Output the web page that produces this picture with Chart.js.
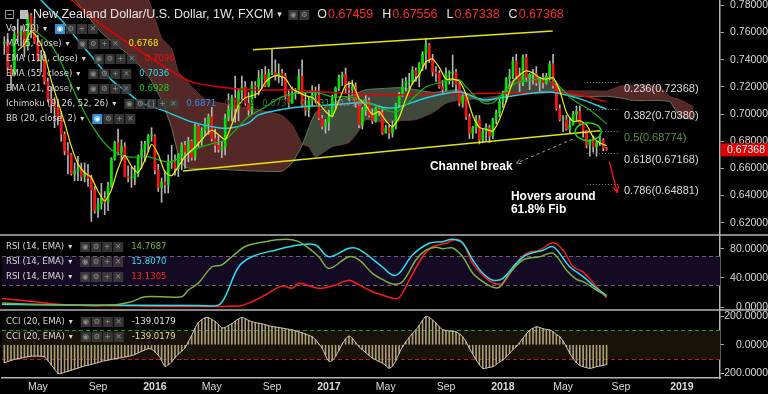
<!DOCTYPE html>
<html lang="en">
<head>
<meta charset="utf-8">
<title>NZD/USD 1W</title>
<script src="https://cdn.jsdelivr.net/npm/chart.js@4.4.1/dist/chart.umd.min.js"></script>
<style>
  html, body { margin: 0; background: #000; overflow: hidden; }
  canvas { display: block; }
</style>
</head>
<body>
<canvas id="grafico" width="768" height="394"></canvas>
<script>
// weekly candles; week 0 = first week of Jan 2016
const firstWeek = -45;
const firstOpen = 0.7520;
const closes = [
  .7530,.7345,.7290,.7590,.7580,.7610,.7500,.7730,.7630,.7530,
  .7400,.7410,.7240,.7110,.7080,.7050,.6980,.6850,.6730,.6700,
  .6560,.6580,.6600,.6540,.6560,.6530,.6440,.6290,.6340,.6380,
  .6350,.6470,.6670,.6790,.6720,.6760,.6540,.6530,.6530,.6560,
  .6690,.6740,.6780,.6840,.6840,
  .6590,.6460,.6500,.6480,.6640,.6650,.6600,.6700,.6770,.6720,
  .6800,.6680,.6910,.6800,.6880,.6930,.6980,.6820,.6770,.6740,
  .6760,.6970,.7030,.7120,.7040,.7160,.7200,.7080,.7030,.7210,
  .7200,.7260,.7290,.7210,.7300,.7310,.7290,.7300,.7280,.7130,
  .7080,.7150,.7160,.7280,.7060,.7030,.7100,.7140,.7140,.6970,
  .6910,.6940,.6980,.7120,.7190,.7270,.7290,.7190,.7180,.7200,
  .7080,.6920,.7030,.7100,.6990,.6950,.7040,.7010,.6860,.6900,
  .6860,.6910,.7070,.7140,.7200,.7240,.7240,.7320,.7280,.7370,
  .7440,.7510,.7400,.7310,.7300,.7200,.7180,.7300,.7300,.7310,
  .7220,.7080,.7130,.6980,.6860,.6900,.6960,.6810,.6870,.6900,
  .6840,.6960,.7010,.7090,.7160,.7260,.7280,.7390,.7280,.7230,
  .7420,.7270,.7290,.7300,.7230,.7250,.7230,.7280,.7370,.7210,
  .7040,.6960,.6960,.6890,.6920,.7000,.7020,.6930,.6880,.6770,
  .6810,.6760,.6790,.6810,.6750,.67368
];
const highs = [
  .7570,.7595,.7360,.7645,.7700,.7650,.7650,.7745,.7740,.7715,
  .7580,.7470,.7460,.7265,.7200,.7120,.7110,.7020,.6870,.6790,
  .6710,.6640,.6690,.6640,.6640,.6630,.6550,.6470,.6380,.6490,
  .6430,.6500,.6680,.6800,.6890,.6810,.6790,.6620,.6610,.6620,
  .6700,.6800,.6800,.6850,.6900,
  .6850,.6630,.6530,.6580,.6700,.6770,.6700,.6710,.6790,.6800,
  .6830,.6810,.6930,.6920,.6900,.6970,.7000,.7050,.6890,.6840,
  .6800,.7000,.7150,.7140,.7280,.7190,.7280,.7240,.7160,.7240,
  .7240,.7320,.7330,.7350,.7330,.7485,.7400,.7370,.7330,.7300,
  .7180,.7200,.7190,.7330,.7400,.7160,.7130,.7210,.7200,.7220,
  .6990,.6960,.7030,.7140,.7200,.7290,.7310,.7340,.7240,.7250,
  .7230,.7080,.7050,.7140,.7120,.7040,.7050,.7060,.7050,.6920,
  .6920,.6950,.7080,.7160,.7260,.7270,.7300,.7350,.7340,.7380,
  .7460,.7558,.7520,.7440,.7350,.7320,.7250,.7340,.7320,.7435,
  .7330,.7230,.7150,.7150,.7000,.6910,.6990,.6990,.6890,.6930,
  .6920,.6970,.7030,.7110,.7170,.7270,.7330,.7420,.7440,.7340,
  .7436,.7440,.7300,.7330,.7350,.7260,.7300,.7300,.7390,.7440,
  .7230,.7070,.6990,.6990,.6970,.7020,.7060,.7060,.6940,.6880,
  .6810,.6840,.6800,.6850,.6820,.67556
];
const lows = [
  .7440,.7330,.7180,.7280,.7530,.7500,.7420,.7470,.7560,.7520,
  .7390,.7310,.7220,.7090,.7010,.6900,.6920,.6800,.6700,.6560,
  .6550,.6510,.6510,.6510,.6500,.6470,.6210,.6270,.6240,.6300,
  .6260,.6290,.6460,.6660,.6700,.6660,.6540,.6500,.6460,.6480,
  .6540,.6600,.6650,.6720,.6800,
  .6560,.6430,.6350,.6420,.6420,.6600,.6550,.6540,.6590,.6600,
  .6650,.6660,.6660,.6760,.6770,.6840,.6850,.6800,.6720,.6720,
  .6680,.6700,.6950,.6950,.6940,.6950,.7100,.7060,.6990,.7000,
  .7120,.7140,.7190,.7200,.7200,.7290,.7250,.7230,.7210,.7110,
  .7050,.7080,.7110,.7150,.7050,.6990,.6980,.7060,.7080,.6960,
  .6890,.6860,.6880,.6980,.7040,.7170,.7210,.7150,.7100,.7140,
  .7050,.6900,.6890,.6990,.6980,.6930,.6940,.6990,.6850,.6860,
  .6820,.6830,.6890,.7050,.7130,.7170,.7190,.7220,.7240,.7200,
  .7320,.7330,.7380,.7280,.7240,.7190,.7150,.7170,.7220,.7200,
  .7150,.7060,.7050,.6960,.6820,.6820,.6860,.6780,.6790,.6800,
  .6790,.6820,.6930,.6980,.7050,.7090,.7190,.7260,.7260,.7160,
  .7210,.7240,.7180,.7220,.7210,.7160,.7190,.7220,.7250,.7190,
  .7030,.6950,.6870,.6880,.6860,.6920,.6950,.6920,.6830,.6750,
  .6690,.6720,.6690,.6770,.6730,.67338
];
// CCI (20, EMA), one value per week
const cciValues = [
  -125,-118,-110,-103,-97,-93,-88,-84,-80,-79,
  -79,-80,-84,-110,-140,-170,-200,-200,-192,-186,
  -178,-170,-163,-155,-148,-143,-137,-131,-125,-117,
  -112,-107,-103,-98,-94,-90,-85,-81,-76,-68,
  -57,-46,-36,-28,-30,
  -50,-72,-110,-150,-140,-120,-90,-65,-45,-22,
  20,65,115,155,175,188,190,175,162,140,
  118,120,135,147,165,180,190,182,170,160,
  155,150,145,140,132,127,123,120,116,112,
  108,104,97,90,82,75,65,56,35,5,
  -25,-75,-115,-110,-80,-40,5,40,60,45,
  15,-14,-35,-55,-75,-93,-105,-118,-128,-145,
  -163,-150,-110,-60,-15,20,50,80,103,135,
  170,198,190,172,150,125,105,100,96,93,
  90,75,55,20,-25,-65,-105,-140,-165,-163,
  -158,-153,-138,-120,-107,-85,-60,-35,-14,15,
  45,75,100,115,125,120,112,107,103,90,
  70,56,25,-15,-60,-95,-125,-145,-153,-160,
  -165,-160,-153,-148,-143,-139
];

// MA(5) every second week from week -41
const ma5Start = -41;
const ma5 = [
  .7467,.7514,.7610,.7558,.7442,.7248,.7092,.6938,.6764,.6634,.6568,.6534,.6432,.6360,.6442,.6600,.6696,.6616,.6570,.6660,.6778,
  .6702,.6574,.6546,.6614,.6688,.6734,.6782,.6840,.6882,.6848,.6812,.6924,.7064,.7120,.7136,.7156,.7234,.7274,.7282,.7262,.7188,.7160,.7136,.7122,.7076,.7020,
  .6984,.7100,.7212,.7226,.7114,.7066,.6998,.7018,.6952,.6908,.6976,.7112,.7228,.7290,.7384,.7406,.7344,.7258,.7258,.7242,.7144,.6990,.6902,.6888,.6876,.6960,
  .7096,.7236,.7288,.7318,.7302,.7268,.7258,.7268,.7172,.7012,.6946,.6952,.6920,.6830,.6788,.6768
];

const ema110Keys = [-30,-25,-18,-8,2,11,22,31,41,51,67,87,107,120,127,135];
const ema110 = [.792,.784,.7693,.7524,.7362,.7237,.7193,.7178,.7178,.7163,.7141,.7149,.7156,.7163,.7141,.7090];
const ema55Keys = [-38,-34,-28,-23,-18,-13,-8,-4,2,11,19,23,28,31,37,43,53,63,69,73,81,91,98,103,113,118,123,128,135];
const ema55 = [.800,.784,.7693,.7546,.7399,.7252,.7156,.7083,.7031,.6943,.6899,.6899,.6935,.6994,.7031,.7053,
  .7068,.7083,.7046,.7053,.7119,.7163,.7105,.7119,.7156,.7163,.7141,.7105,.7036];
const ema21Keys = [-40,-36,-31,-27,-23,-18,-13,-8,-2,4,8,13,18,21,25,28,33,38,43,49,
  53,58,63,69,72,76,81,86,91,93,98,101,105,108,113,118,121,125,130,135];
const ema21 = [.775,.762,.7509,.7325,.7105,.6884,.6737,.6685,.6685,.6648,.6685,.6751,.6788,.6810,.6906,.6980,.7053,.7127,.7156,.7156,
  .7127,.7127,.7090,.7031,.7016,.7090,.7200,.7237,.7252,.7200,.7083,.7083,.7178,.7230,.7252,.7267,.7200,.7105,.7031,.6928];

// Ichimoku cloud, leading spans (already shifted 26 weeks)
const cloudKeys = [-46,-34,-24,-16,-7,-2,0,2,5,7,9,11,15,22,31,38,41,44,46,48,
  53,58,61,63,69,73,78,83,87,91,95,99,103,107,111,115,119,123,127,131,
  135,139,143,147,151,154,157,161];
const spanA = [.830,.800,.784,.760,.742,.728,.720,.710,.690,.670,.661,.660,.660,.659,.658,.658,.664,.677,.690,.701,
  .708,.713,.716,.718,.719,.7195,.718,.716,.717,.718,.712,.709,.713,.725,.729,.727,.723,.715,.713,.713,
  .7131,.712,.710,.710,.710,.709,.698,.696];
const spanB = [.860,.830,.810,.795,.790,.784,.770,.756,.748,.731,.726,.720,.711,.707,.703,.699,.692,.678,.676,.6685,
  .676,.679,.688,.696,.6935,.695,.696,.701,.708,.7105,.711,.712,.7135,.7145,.715,.715,.716,.717,.717,.717,
  .7169,.7205,.721,.721,.720,.7127,.7105,.7053];

const rsiGreenKeys = [-46,-36,-26,-13,-7,-3,8,10,13,17,20,23,27,33,39,43,46,49,52,58,61,65,68,71,74,78,
  81,84,86,89,92,95,98,101,103,106,110,115,119,123,126,128,132,135];
const rsiGreen = [6,4,3,3,7.6,14.5,14.5,23.6,33,55,58,69,83,89.6,92.8,89.6,80.5,69,53,69,64.6,46.4,38,31.8,35,64.6,
  78,82,80,81,69,46.4,35,27.3,27.5,46.4,64.6,69,73.7,51,38,35,23.6,14.8];
const rsiCyanKeys = [-46,-26,13,19,21,25,29,36,43,48,52,58,61,68,71,73,77,82,86,89,92,95,98,101,104,108,111,116,119,124,128,132,135];
const rsiCyan = [4,3,2.5,3,14.5,55,69,78,85,85,69,80.5,79,55,44,46.4,71.4,87.4,89.6,92.8,87.4,64.6,46.4,37,39.6,60,71.4,78,82.7,55.4,41.8,26,15.8];
const rsiRedKeys = [-46,-36,-26,-13,25,29,33,38,41,43,49,54,58,61,65,68,71,73,76,80,83,87,90,92,95,98,101,104,108,111,115,119,122,125,128,132,135];
const rsiRed = [12.3,7.6,3,2,1.8,7.6,16.8,29,26,32.8,26,30.5,37,30.5,21.3,16.8,12.3,13,37,69,82.7,87.4,92.8,88,60,44,33.6,33,60,73.7,78,88.2,78,55.4,48,28.1,13.1];

// drawings
const channelUpperKeys = [29.3, 118.9];
const channelUpper = [0.7473, 0.7612];
const channelLowerKeys = [8.4, 133.0];
const channelLower = [0.6582, 0.6877];
const fibRatios = ['0.236', '0.382', '0.5', '0.618', '0.786'];
const fibPrices = [0.72368, 0.70380, 0.68774, 0.67168, 0.64881];
const fibSpan = [129.1, 139.0];
const rsiBand = [30, 70];
const cciBand = [-100, 100];

// axes
const xTickKeys = [-35, -17, 0, 17, 35, 52, 69, 87, 104, 122, 139.3, 157.5];
const xTickLabels = ['May', 'Sep', '2016', 'May', 'Sep', '2017', 'May', 'Sep', '2018', 'May', 'Sep', '2019'];
const priceTicks = [0.62, 0.64, 0.66, 0.68, 0.70, 0.72, 0.74, 0.76, 0.78];
const rsiTicks = [0, 40, 80];
const cciTicks = [-200, 0, 200];

const FONT = '"Liberation Sans", Arial, sans-serif';
const NARROW = '"Liberation Sans Narrow", "DejaVu Sans Condensed", "Liberation Sans", sans-serif';
Chart.defaults.font.family = FONT;

const pts = (keys, vals) => keys.map((k, i) => ({x: k, y: vals[i]}));
const opens = closes.map((c, i) => i === 0 ? firstOpen : closes[i - 1]);
const weeks = closes.map((c, i) => firstWeek + i);
const wickData = weeks.map((k, i) => ({x: k, y: [lows[i], highs[i]]}));
const bodyData = weeks.map((k, i) => ({x: k, y: [opens[i], closes[i]]}));
const bodyColors = closes.map((c, i) => c >= opens[i] ? '#00e600' : '#ff1010');
const ma5Data = ma5.map((v, i) => ({x: ma5Start + 2 * i, y: v}));
const cciData = weeks.map((k, i) => ({x: k, y: cciValues[i]}));

const lineDs = (data, color, width, order, axis, tension) => ({
  type: 'line', data, yAxisID: axis || 'y', borderColor: color, borderWidth: width,
  pointRadius: 0, fill: false, tension: tension || 0, order
});

const datasets = [
  { type: 'line', data: pts(cloudKeys, spanB), yAxisID: 'y', borderColor: 'rgba(140,62,56,0.9)', borderWidth: 1,
    pointRadius: 0, fill: false, tension: 0.15, order: 20 },
  { type: 'line', data: pts(cloudKeys, spanA), yAxisID: 'y', borderColor: 'rgba(105,130,90,0.9)', borderWidth: 1,
    pointRadius: 0, tension: 0.15, order: 19,
    fill: { target: 0, above: 'rgba(70,82,66,0.9)', below: 'rgba(90,43,41,0.92)' } },
  { type: 'bar', data: wickData, yAxisID: 'y', backgroundColor: '#b4b4b4', barThickness: 1, grouped: false, order: 12 },
  { type: 'bar', data: bodyData, yAxisID: 'y', backgroundColor: bodyColors, barThickness: 2, minBarLength: 1, grouped: false, order: 11 },
  lineDs(pts(ema110Keys, ema110), '#e60000', 1.5, 8, 'y', 0.3),
  lineDs(pts(ema55Keys, ema55), '#19d4e6', 1.5, 7, 'y', 0.3),
  lineDs(pts(ema21Keys, ema21), '#14b814', 1.2, 6, 'y', 0.3),
  lineDs(ma5Data, '#f2f200', 1.2, 5, 'y', 0.2),
  lineDs(pts(channelUpperKeys, channelUpper), '#e6e600', 1.5, 4),
  lineDs(pts(channelLowerKeys, channelLower), '#e6e600', 1.5, 4),
  lineDs(pts(rsiRedKeys, rsiRed), '#ff1a1a', 1.5, 6, 'yRsi', 0.35),
  lineDs(pts(rsiCyanKeys, rsiCyan), '#22e4f4', 1.5, 5, 'yRsi', 0.35),
  lineDs(pts(rsiGreenKeys, rsiGreen), '#7cb040', 1.5, 4, 'yRsi', 0.35),
  { type: 'bar', data: cciData, yAxisID: 'yCci', backgroundColor: '#ad9e72', barThickness: 1, grouped: false, order: 9 },
  lineDs(cciData, '#cfc6b2', 1, 3, 'yCci', 0.3)
];

const glyphs = ['\u25C9', '\u2699', '+', '\u2715'];
function drawIcons(ctx, x, y, set, blueFirst) {
  set.forEach((g, i) => {
    const bx = x + i * 11;
    const blue = blueFirst && i === 0;
    ctx.fillStyle = blue ? '#2e90d6' : 'rgba(62,62,62,0.85)';
    ctx.fillRect(bx, y - 5, 10, 10);
    ctx.fillStyle = blue ? '#ffffff' : '#8a8a8a';
    ctx.font = '7.5px "DejaVu Sans"';
    ctx.textAlign = 'center';
    ctx.fillText(g, bx + 5, y + 0.5);
  });
  ctx.textAlign = 'left';
  return x + set.length * 11 - 1;
}
function drawRow(ctx, y, label, set, blueFirst, values) {
  ctx.textAlign = 'left';
  ctx.textBaseline = 'middle';
  ctx.font = '9.5px ' + NARROW;
  ctx.fillStyle = '#d6d6d6';
  ctx.fillText(label, 6, y);
  let x = 6 + ctx.measureText(label).width + 4;
  ctx.font = '8px "DejaVu Sans"';
  ctx.fillText('\u25BE', x, y);
  x = drawIcons(ctx, x + 12, y, set, blueFirst);
  ctx.font = '9.5px ' + NARROW;
  for (const [txt, col] of values) {
    x += 8;
    ctx.fillStyle = col;
    ctx.fillText(txt, x, y);
    x += ctx.measureText(txt).width;
  }
}
function arrow(ctx, x1, y1, x2, y2, size) {
  const a = Math.atan2(y2 - y1, x2 - x1);
  ctx.beginPath(); ctx.moveTo(x1, y1); ctx.lineTo(x2, y2); ctx.stroke();
  ctx.setLineDash([]);
  ctx.beginPath();
  ctx.moveTo(x2 - size * Math.cos(a - 0.45), y2 - size * Math.sin(a - 0.45));
  ctx.lineTo(x2, y2);
  ctx.lineTo(x2 - size * Math.cos(a + 0.45), y2 - size * Math.sin(a + 0.45));
  ctx.stroke();
}

const panes = {
  id: 'panes',
  beforeDraw(chart) {
    const {ctx, width, height} = chart;
    ctx.save();
    ctx.fillStyle = '#000';
    ctx.fillRect(0, 0, width, height);
    ctx.restore();
  },
  beforeDatasetsDraw(chart) {
    const {ctx, chartArea: a, scales: {yRsi, yCci}} = chart;
    const band = (s, lo, hi, col) => {
      const t = s.getPixelForValue(hi), b = s.getPixelForValue(lo);
      ctx.fillStyle = col;
      ctx.fillRect(a.left, t, a.right - a.left, b - t);
    };
    const dash = (s, v, col) => {
      const y = Math.round(s.getPixelForValue(v)) + 0.5;
      ctx.strokeStyle = col;
      ctx.lineWidth = 1;
      ctx.setLineDash([4, 3]);
      ctx.beginPath(); ctx.moveTo(a.left, y); ctx.lineTo(a.right, y); ctx.stroke();
    };
    ctx.save();
    band(yRsi, rsiBand[0], rsiBand[1], '#150a24');
    band(yCci, cciBand[0], cciBand[1], '#17120a');
    dash(yRsi, rsiBand[0], '#6c5a80');
    dash(yRsi, rsiBand[1], '#6c5a80');
    dash(yCci, cciBand[1], '#1f9a1f');
    dash(yCci, cciBand[0], '#c81c1c');
    ctx.restore();
  },
  afterDatasetsDraw(chart) {
    const {ctx, scales: {x, y}} = chart;
    const px = k => x.getPixelForValue(k);
    const py = v => y.getPixelForValue(v);
    ctx.save();
    // fibonacci levels
    fibPrices.forEach((p, i) => {
      const yy = Math.round(py(p)) + 0.5;
      ctx.strokeStyle = '#8a8a8a';
      ctx.lineWidth = 1;
      ctx.setLineDash([1, 2]);
      ctx.beginPath(); ctx.moveTo(px(fibSpan[0]), yy); ctx.lineTo(px(fibSpan[1]), yy); ctx.stroke();
      ctx.setLineDash([]);
      ctx.font = '11px ' + FONT;
      ctx.textBaseline = 'middle';
      ctx.textAlign = 'left';
      ctx.fillStyle = fibRatios[i] === '0.5' ? '#5f8f2f' : '#dcdcdc';
      ctx.fillText(fibRatios[i] + '(' + p.toFixed(5) + ')', px(fibSpan[1]) + 4, yy + 6);
    });
    // channel break pointer
    ctx.strokeStyle = '#a0a0a0';
    ctx.lineWidth = 1;
    ctx.setLineDash([3, 3]);
    arrow(ctx, px(124.8), py(0.6815), px(108.1), py(0.6639), 5);
    // projected move
    ctx.strokeStyle = '#ff1a1a';
    ctx.lineWidth = 1.2;
    arrow(ctx, px(135.8), py(0.6651), px(138.2), py(0.6423), 7);
    // highlight ellipse
    ctx.strokeStyle = '#19d419';
    ctx.lineWidth = 1.5;
    ctx.beginPath();
    ctx.ellipse(px(129.5), py(0.6871), 13, 9, 0, 0, Math.PI * 2);
    ctx.stroke();
    // notes
    ctx.fillStyle = '#ffffff';
    ctx.font = 'bold 12px ' + FONT;
    ctx.textAlign = 'left';
    ctx.textBaseline = 'middle';
    ctx.fillText('Channel break', px(82.2), py(0.6612));
    ctx.fillText('Hovers around', px(106.4), py(0.6391));
    ctx.fillText('61.8% Fib', px(106.4), py(0.6295));
    ctx.restore();
  },
  afterDraw(chart) {
    const {ctx, width, scales: {y, yRsi, yCci}} = chart;
    ctx.save();
    // pane separators
    ctx.strokeStyle = '#b4b4b4';
    ctx.lineWidth = 1.5;
    [yRsi.top, yCci.top].forEach(t => {
      ctx.beginPath(); ctx.moveTo(0, t); ctx.lineTo(width, t); ctx.stroke();
    });
    // title row
    ctx.textBaseline = 'middle';
    ctx.strokeStyle = '#9a9a9a';
    ctx.lineWidth = 1;
    ctx.strokeRect(5.5, 10.5, 8, 8);
    ctx.beginPath(); ctx.moveTo(7.5, 14.5); ctx.lineTo(11.5, 14.5); ctx.stroke();
    ctx.fillStyle = '#bdbdbd';
    ctx.fillRect(20, 10, 8, 9);
    ctx.font = '12.5px ' + FONT;
    ctx.fillStyle = '#e6e6e6';
    const title = 'New Zealand Dollar/U.S. Dollar, 1W, FXCM';
    ctx.fillText(title, 33, 15);
    let x = 33 + ctx.measureText(title).width + 4;
    ctx.font = '9px "DejaVu Sans"';
    ctx.fillText('\u25BE', x, 15);
    x = drawIcons(ctx, x + 11, 15, glyphs.slice(0, 2), false) + 8;
    ctx.font = '12.5px ' + FONT;
    [['O', '0.67459'], ['H', '0.67556'], ['L', '0.67338'], ['C', '0.67368']].forEach(([k, v]) => {
      ctx.fillStyle = '#e6e6e6';
      ctx.fillText(k, x, 15);
      x += ctx.measureText(k).width + 1;
      ctx.fillStyle = '#ff2a2a';
      ctx.fillText(v, x, 15);
      x += ctx.measureText(v).width + 9;
    });
    // indicator rows
    drawRow(ctx, 29, 'Vol (20)', glyphs, true, []);
    drawRow(ctx, 44, 'MA (5, close)', glyphs, false, [['0.6768', '#eeee00']]);
    drawRow(ctx, 59, 'EMA (110, close)', glyphs, false, [['0.7090', '#ee1010']]);
    drawRow(ctx, 74, 'EMA (55, close)', glyphs, false, [['0.7036', '#22dcec']]);
    drawRow(ctx, 89, 'EMA (21, close)', glyphs, false, [['0.6928', '#18d018']]);
    drawRow(ctx, 104, 'Ichimoku (9, 26, 52, 26)', ['\u25C9', '\u2699', '{}', '+', '\u2715'], false,
      [['0.6871', '#2f8fe8'], ['0.7082', '#7a2222'], ['0.6737', '#3c6e2a'], ['0.7131', '#4f8a38'], ['0.7169', '#b07878']]);
    drawRow(ctx, 119, 'BB (20, close, 2)', glyphs, true, []);
    drawRow(ctx, 247, 'RSI (14, EMA)', glyphs, false, [['14.7687', '#7cb040']]);
    drawRow(ctx, 262, 'RSI (14, EMA)', glyphs, false, [['15.8070', '#22e4f4']]);
    drawRow(ctx, 277, 'RSI (14, EMA)', glyphs, false, [['13.1305', '#ff2020']]);
    drawRow(ctx, 322, 'CCI (20, EMA)', glyphs, false, [['-139.0179', '#e0e0e0']]);
    drawRow(ctx, 337, 'CCI (20, EMA)', glyphs, false, [['-139.0179', '#e6d6a0']]);
    // last price marker
    const last = closes[closes.length - 1];
    const ly = y.getPixelForValue(last);
    ctx.fillStyle = '#e00000';
    ctx.fillRect(y.left + 1, ly - 6.5, width - y.left - 1, 13);
    ctx.fillStyle = '#ffffff';
    ctx.font = '10.5px ' + FONT;
    ctx.textAlign = 'right';
    ctx.fillText(last.toFixed(5), width - 3, ly + 0.5);
    ctx.restore();
  }
};

const noPad = s => { s.paddingTop = 0; s.paddingBottom = 0; s.paddingLeft = 0; s.paddingRight = 0; };

const yAxis = (stackWeight, min, max, ticks, digits, pad) => ({
  type: 'linear', position: 'right', stack: 'panes', stackWeight, min, max, offset: false,
  afterBuildTicks: s => { s.ticks = ticks.map(v => ({value: v})); },
  afterFit: s => { s.width = 48; noPad(s); },
  grid: { display: true, drawOnChartArea: false, drawTicks: true, tickLength: 4, color: '#a8a8a8' },
  border: { display: true, color: '#b4b4b4', width: 1.5 },
  ticks: { color: '#d8d8d8', font: { size: 10.5 }, padding: pad, crossAlign: 'far', autoSkip: false,
    callback: v => v.toFixed(digits) }
});

new Chart(document.getElementById('grafico'), {
  type: 'line',
  data: { datasets },
  options: {
    responsive: false,
    animation: false,
    events: [],
    layout: { padding: { left: 2, right: 0, top: 0, bottom: 0 } },
    plugins: { legend: { display: false }, tooltip: { enabled: false } },
    scales: {
      x: {
        type: 'linear', min: -45.7, max: 168.9, offset: false,
        afterBuildTicks: s => { s.ticks = xTickKeys.map(v => ({value: v})); },
        afterFit: s => { s.height = 16; noPad(s); },
        grid: { display: false, drawTicks: false },
        border: { display: true, color: '#b4b4b4', width: 1.5 },
        ticks: {
          color: '#dadada', autoSkip: false, maxRotation: 0, padding: 3,
          font: ctx => ({ size: 10.5, weight: /^\d{4}$/.test(xTickLabels[ctx.index]) ? 'bold' : 'normal' }),
          callback: (v, i) => xTickLabels[i]
        }
      },
      y: yAxis(235, 0.611, 0.784, priceTicks, 5, 3),
      yRsi: yAxis(75, -3.7, 98.7, rsiTicks, 4, 3),
      yCci: yAxis(68, -232, 242, cciTicks, 4, -6)
    }
  },
  plugins: [panes]
});
</script>
</body>
</html>
